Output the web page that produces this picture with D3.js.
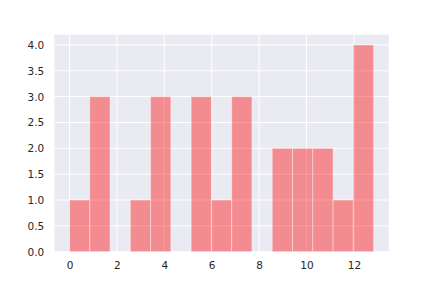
<!DOCTYPE html>
<html>
<head>
  <meta charset="UTF-8">
  <style>
    body { margin: 0; background: #fff; }
    text { font-family: "DejaVu Sans", sans-serif; }
  </style>
</head>
<body>
<svg></svg>
<script src="https://d3js.org/d3.v7.min.js"></script>
<script>

let width = 432, height = 288;

// histogram: 15 bins from 0 to 12.83
let binStart = 0, binEnd = 12.83, binCount = 15;
let counts = [1, 3, 0, 1, 3, 0, 3, 1, 3, 0, 2, 2, 2, 1, 4];
let xTicks = [0, 2, 4, 6, 8, 10, 12];
let yTicks = [0, 0.5, 1, 1.5, 2, 2.5, 3, 3.5, 4];

let margin = {left: 54.3, right: 43.2, top: 34.6, bottom: 36.3};

let svg = d3.select("svg")
    .attr("width", width)
    .attr("height", height);

let binW = (binEnd - binStart) / binCount;
let bins = counts.map((c, i) => ({x0: binStart + i * binW, x1: binStart + (i + 1) * binW, n: c}));

let pad = (binEnd - binStart) * 0.05;
let x = d3.scaleLinear()
    .domain([binStart - pad, binEnd + pad])
    .range([margin.left, width - margin.right]);

let y = d3.scaleLinear()
    .domain([0, 4.2])
    .range([height - margin.bottom, margin.top]);

// background
svg.append("rect")
    .attr("x", margin.left)
    .attr("y", margin.top)
    .attr("width", width - margin.left - margin.right)
    .attr("height", height - margin.top - margin.bottom)
    .attr("fill", "#eaeaf2");

// grid
let grid = svg.append("g");
grid.selectAll(".gx")
    .data(xTicks)
    .enter()
        .append("line")
        .attr("x1", d => x(d)).attr("x2", d => x(d))
        .attr("y1", margin.top).attr("y2", height - margin.bottom)
        .attr("stroke", "#fff")
        .attr("stroke-width", 1);
grid.selectAll(".gy")
    .data(yTicks)
    .enter()
        .append("line")
        .attr("x1", margin.left).attr("x2", width - margin.right)
        .attr("y1", d => y(d)).attr("y2", d => y(d))
        .attr("stroke", "#fff")
        .attr("stroke-width", 1);

// bars
svg.append("g")
    .selectAll("rect")
    .data(bins.filter(d => d.n > 0))
    .enter()
        .append("rect")
        .attr("x", d => x(d.x0))
        .attr("width", d => x(d.x1) - x(d.x0))
        .attr("y", d => y(d.n))
        .attr("height", d => y(0) - y(d.n))
        .attr("fill", "red")
        .attr("fill-opacity", 0.4)
        .attr("stroke", "#fff")
        .attr("stroke-opacity", 0.4)
        .attr("stroke-width", 1);

// axes
let xAxis = svg.append("g")
    .attr("transform", "translate(0," + (height - margin.bottom) + ")")
    .call(d3.axisBottom(x).tickValues(xTicks).tickSize(0).tickPadding(9.5).tickFormat(d3.format("d")));
let yAxis = svg.append("g")
    .attr("transform", "translate(" + margin.left + ",0)")
    .call(d3.axisLeft(y).tickValues(yTicks).tickSize(0).tickPadding(10).tickFormat(d3.format(".1f")));

[xAxis, yAxis].forEach(a => {
    a.select(".domain").remove();
    a.selectAll("text")
        .attr("fill", "#262626")
        .style("font-size", "10.5px")
        .style("font-family", "DejaVu Sans, sans-serif");
});

</script>
</body>
</html>
